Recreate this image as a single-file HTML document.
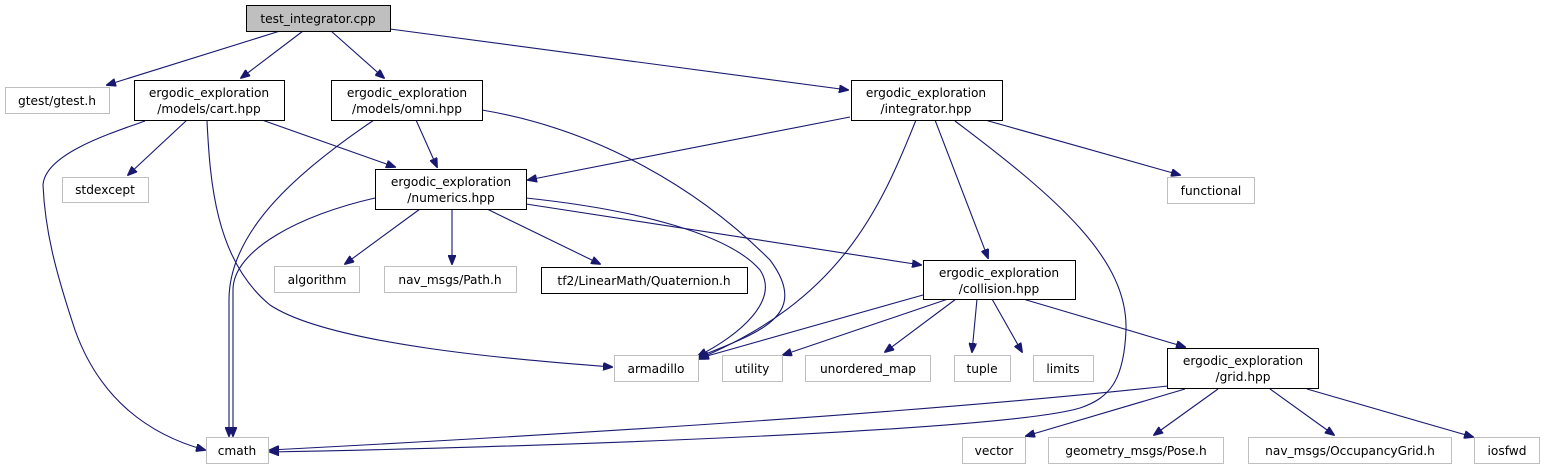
<!DOCTYPE html>
<html><head><meta charset="utf-8"><style>
html,body{margin:0;padding:0;background:#fff;}
svg{display:block;}
text{font-family:"DejaVu Sans","Liberation Sans",sans-serif;font-size:12.2px;fill:#000;text-anchor:middle;}
.g{fill:#fff;stroke:#bfbfbf;stroke-width:1;}
.b{fill:#fff;stroke:#000;stroke-width:1;}
.e{fill:none;stroke:#191970;stroke-width:1.1;marker-end:url(#a);}
</style></head><body>
<svg width="1544" height="469" viewBox="0 0 1544 469">
<defs><marker id="a" markerWidth="10" markerHeight="8" refX="9" refY="4" orient="auto" markerUnits="userSpaceOnUse"><path d="M0,0 L10,4 L0,8 z" fill="#191970" stroke="#191970"/></marker></defs>
<g>
<path class="e" d="M280,31 L107,85"/>
<path class="e" d="M303,31 L241,78"/>
<path class="e" d="M331,31 L384,78"/>
<path class="e" d="M390,29 L848,90"/>
<path class="e" d="M187,120 L128,175"/>
<path class="e" d="M262,120 L395,167"/>
<path class="e" d="M145,121 C105,135 45,155 43,185 C45,230 55,270 75,330 C100,400 150,435 205,450"/>
<path class="e" d="M207,121 C210,180 215,260 270,305 C330,345 520,360 612,367"/>
<path class="e" d="M416,120 L437,167"/>
<path class="e" d="M374,120 C300,170 229,230 229,300 L229,436"/>
<path class="e" d="M482,110 C600,130 700,190 770,260 C800,300 780,320 750,335 C730,345 715,350 698,357"/>
<path class="e" d="M850,117 L528,180"/>
<path class="e" d="M916,120 C880,210 840,300 698,359"/>
<path class="e" d="M935,120 L988,258"/>
<path class="e" d="M985,120 L1180,175"/>
<path class="e" d="M955,121 C1060,200 1128,260 1126,330 C1124,380 1110,398 1080,408 C1000,432 500,448 270,452"/>
<path class="e" d="M420,209 L345,264"/>
<path class="e" d="M452,209 L452,264"/>
<path class="e" d="M487,209 L600,264"/>
<path class="e" d="M526,204 L921,265"/>
<path class="e" d="M375,198 C300,215 233,250 233,290 L233,436"/>
<path class="e" d="M526,198 C640,210 730,235 760,270 C780,300 740,335 698,356"/>
<path class="e" d="M923,295 L700,358"/>
<path class="e" d="M948,299 L783,355"/>
<path class="e" d="M956,299 L885,352"/>
<path class="e" d="M977,299 L972,352"/>
<path class="e" d="M992,299 L1022,352"/>
<path class="e" d="M1023,299 L1185,347"/>
<path class="e" d="M1168,386 C900,415 500,438 270,450"/>
<path class="e" d="M1185,389 L1026,436"/>
<path class="e" d="M1218,389 L1154,435"/>
<path class="e" d="M1270,389 L1334,435"/>
<path class="e" d="M1307,389 L1473,437"/>
</g>
<rect x="246.5" y="5.5" width="144" height="26" fill="#bfbfbf" stroke="#000"/><text x="318" y="23">test_integrator.cpp</text>
<rect class="g" x="5.5" y="87.5" width="104" height="26"/><text x="57" y="105">gtest/gtest.h</text>
<rect class="b" x="134.5" y="80.5" width="150" height="40"/><text x="209" y="97">ergodic_exploration</text><text x="209" y="113">/models/cart.hpp</text>
<rect class="b" x="331.5" y="80.5" width="151" height="40"/><text x="407" y="97">ergodic_exploration</text><text x="407" y="113">/models/omni.hpp</text>
<rect class="b" x="851.5" y="80.5" width="151" height="40"/><text x="926" y="97">ergodic_exploration</text><text x="926" y="113">/integrator.hpp</text>
<rect class="g" x="62.5" y="177.5" width="86" height="25"/><text x="105" y="194">stdexcept</text>
<rect class="b" x="375.5" y="169.5" width="151" height="40"/><text x="451" y="186">ergodic_exploration</text><text x="451" y="202">/numerics.hpp</text>
<rect class="g" x="1167.5" y="177.5" width="87" height="26"/><text x="1211" y="195">functional</text>
<rect class="g" x="274.5" y="266.5" width="85" height="26"/><text x="317" y="284">algorithm</text>
<rect class="g" x="384.5" y="266.5" width="132" height="26"/><text x="450" y="284">nav_msgs/Path.h</text>
<rect class="b" x="541.5" y="267.5" width="206" height="26"/><text x="644" y="285">tf2/LinearMath/Quaternion.h</text>
<rect class="b" x="923.5" y="260.5" width="152" height="39"/><text x="999" y="277">ergodic_exploration</text><text x="999" y="293">/collision.hpp</text>
<rect class="g" x="614.5" y="355.5" width="84" height="26"/><text x="656" y="373">armadillo</text>
<rect class="g" x="722.5" y="355.5" width="60" height="26"/><text x="752" y="373">utility</text>
<rect class="g" x="805.5" y="355.5" width="125" height="26"/><text x="868" y="373">unordered_map</text>
<rect class="g" x="954.5" y="355.5" width="56" height="26"/><text x="982" y="373">tuple</text>
<rect class="g" x="1033.5" y="355.5" width="60" height="26"/><text x="1063" y="373">limits</text>
<rect class="b" x="1167.5" y="348.5" width="151" height="40"/><text x="1243" y="365">ergodic_exploration</text><text x="1243" y="381">/grid.hpp</text>
<rect class="g" x="206.5" y="437.5" width="62" height="26"/><text x="237" y="455">cmath</text>
<rect class="g" x="962.5" y="437.5" width="63" height="26"/><text x="994" y="455">vector</text>
<rect class="g" x="1048.5" y="437.5" width="175" height="26"/><text x="1136" y="455">geometry_msgs/Pose.h</text>
<rect class="g" x="1248.5" y="437.5" width="203" height="26"/><text x="1350" y="455">nav_msgs/OccupancyGrid.h</text>
<rect class="g" x="1474.5" y="437.5" width="65" height="26"/><text x="1507" y="455">iosfwd</text>
</svg>
</body></html>
